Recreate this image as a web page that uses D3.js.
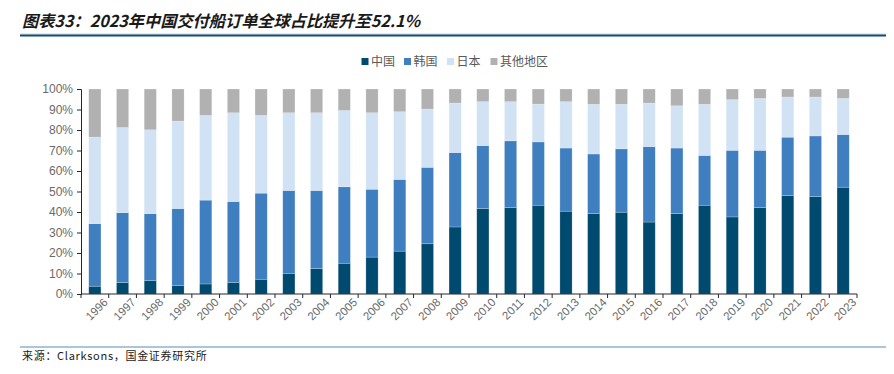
<!DOCTYPE html>
<html><head><meta charset="utf-8">
<script src="https://cdn.jsdelivr.net/npm/d3@7/dist/d3.min.js"></script>
<style>
html,body{margin:0;padding:0;background:#fff;}
svg{display:block;font-family:"Noto Sans CJK SC","Noto Sans",sans-serif;}
</style></head>
<body><svg id="c" width="894" height="374"></svg>
<script>
const years = ["1996","1997","1998","1999","2000","2001","2002","2003","2004","2005","2006","2007","2008","2009","2010","2011","2012","2013","2014","2015","2016","2017","2018","2019","2020","2021","2022","2023"];
const seriesNames = ["中国","韩国","日本","其他地区"];
const china = [3.8,5.6,6.5,4.2,4.9,5.6,7.2,10.1,12.4,15.0,18.0,20.9,24.5,32.7,41.7,42.2,43.3,40.4,39.2,39.9,35.1,39.2,43.3,37.6,42.2,48.0,47.5,52.1];
const korea = [30.5,34.1,32.7,37.5,40.9,39.5,42.0,40.4,38.1,37.3,33.1,35.0,37.3,36.3,30.7,32.5,30.9,30.8,29.1,30.9,36.8,32.0,24.3,32.5,27.9,28.5,29.6,25.7];
const japan = [42.2,41.5,40.9,42.6,41.3,43.3,37.9,37.9,37.9,37.2,37.3,33.0,28.4,24.1,21.4,19.1,18.4,22.6,24.2,21.7,21.2,20.6,24.9,24.7,25.3,19.6,19.0,17.6];
const other = [23.5,18.8,19.9,15.7,12.9,11.6,12.9,11.6,11.6,10.5,11.6,11.1,9.8,6.9,6.2,6.2,7.4,6.2,7.5,7.5,6.9,8.2,7.5,5.2,4.6,3.9,3.9,4.6];
const yTicks = [0,10,20,30,40,50,60,70,80,90,100];
const colors = ["#004a6f","#3f7fbf","#d0e2f3","#b1b1b1"];

const svg = d3.select("#c");
const table = years.map((y,i)=>({year:y, "中国":china[i], "韩国":korea[i], "日本":japan[i], "其他地区":other[i]}));
const stacked = d3.stack().keys(seriesNames)(table);

const x = d3.scaleBand().domain(years).range([81,857]).paddingInner(0.56).paddingOuter(0.28);
const y = d3.scaleLinear().domain([0,100]).range([294,89]);

// title
svg.append("text").attr("x",22).attr("y",27)
  .attr("font-size",16.2).attr("font-weight","bold").attr("font-style","italic")
  .attr("fill","#1a1a1a").attr("font-family","'Noto Sans CJK SC',sans-serif")
  .text("图表33：2023年中国交付船订单全球占比提升至52.1%");
svg.append("line").attr("x1",20).attr("x2",886).attr("y1",34).attr("y2",34).attr("stroke","#d0d0d0").attr("stroke-width",1);
svg.append("line").attr("x1",20).attr("x2",886).attr("y1",35.5).attr("y2",35.5).attr("stroke","#0e4d75").attr("stroke-width",2);

// bars
svg.append("g").selectAll("g").data(stacked).join("g")
  .attr("fill",(d,i)=>colors[i])
  .selectAll("rect").data(d=>d).join("rect")
  .attr("x",d=>x(d.data.year))
  .attr("width",x.bandwidth())
  .attr("y",d=>y(d[1]))
  .attr("height",d=>y(d[0])-y(d[1]))
  .attr("stroke","rgba(255,255,255,0.35)").attr("stroke-width",0.6);

// y axis
const ya = svg.append("g").attr("transform","translate(81,0)")
  .call(d3.axisLeft(y).tickValues(yTicks).tickFormat(d=>d+"%").tickSize(4).tickPadding(4));
ya.select(".domain").attr("stroke","#262626");
ya.selectAll(".tick line").attr("stroke","#262626");
ya.selectAll("text").attr("fill","#6a6a6a").attr("font-size",12).attr("font-family","'Liberation Sans',Arial,sans-serif");

// x axis
const xa = svg.append("g").attr("transform","translate(0,294)")
  .call(d3.axisBottom(x).tickSize(0).tickPadding(8));
xa.select(".domain").attr("d","M81,0H857").attr("stroke","#262626");
xa.selectAll(".bt").data(d3.range(years.length+1)).join("line").attr("class","bt")
  .attr("x1",i=>81+i*(776/years.length)).attr("x2",i=>81+i*(776/years.length))
  .attr("y1",0).attr("y2",4).attr("stroke","#262626");
xa.selectAll(".tick text").attr("fill","#6a6a6a").attr("font-size",11.5)
  .attr("font-family","'Liberation Sans',Arial,sans-serif")
  .attr("text-anchor","end").attr("dx","0.3em").attr("dy","0.7em")
  .attr("transform","rotate(-45)");

// legend
const legX = [361.5,404,447,490.5];
const lg = svg.append("g");
seriesNames.forEach((n,i)=>{
  lg.append("rect").attr("x",legX[i]).attr("y",58).attr("width",7).attr("height",7).attr("fill",colors[i]);
  lg.append("text").attr("x",legX[i]+9.5).attr("y",66).attr("font-size",12).attr("fill","#595959").text(n);
});

// footer
svg.append("line").attr("x1",20).attr("x2",886).attr("y1",347).attr("y2",347).attr("stroke","#5a8cb5").attr("stroke-width",1.2);
svg.append("text").attr("x",22).attr("y",360).attr("font-size",11).attr("fill","#1a1a1a")
  .attr("letter-spacing",0.7)
  .attr("font-family","'Noto Sans CJK SC','DejaVu Sans Mono',monospace")
  .text("来源：Clarksons，国金证券研究所");
</script></body></html>
